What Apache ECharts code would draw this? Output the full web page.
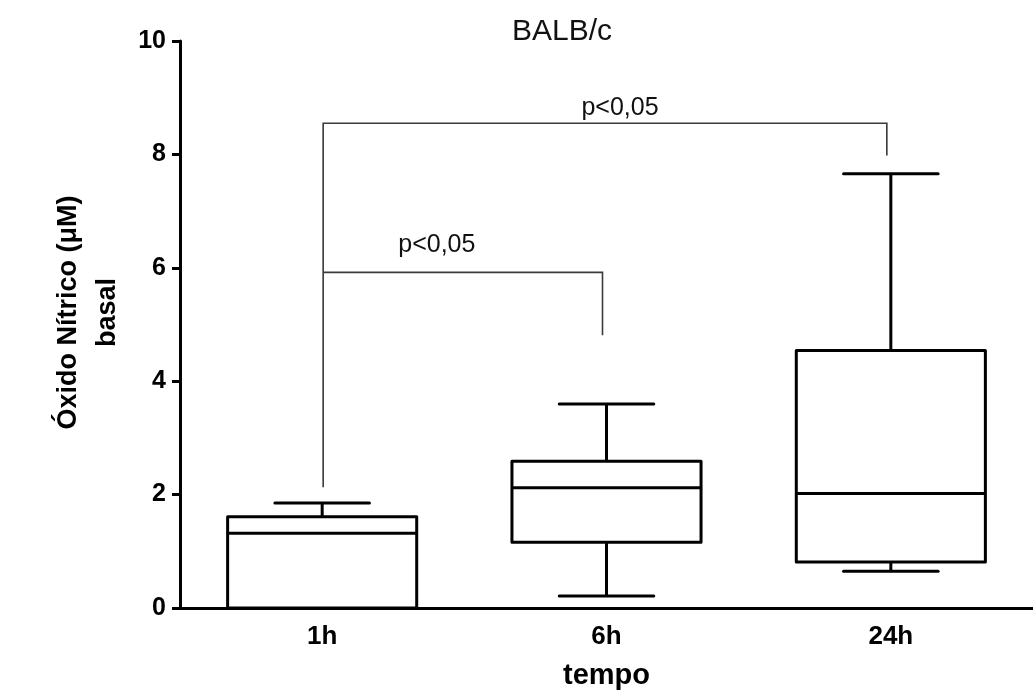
<!DOCTYPE html>
<html>
<head>
<meta charset="utf-8">
<script src="https://cdn.jsdelivr.net/npm/echarts@6/dist/echarts.min.js"></script>
<style>
html,body{margin:0;padding:0;background:#fff;}
#chart{width:1033px;height:695px;}
</style>
</head>
<body>
<div id="chart"></div>
<script>
// ---- data ----
const categories = ['1h', '6h', '24h'];
const minVals    = [0.00, 0.21, 0.65];
const q1Vals     = [0.00, 1.16, 0.81];
const medianVals = [1.32, 2.12, 2.02];
const q3Vals     = [1.61, 2.59, 4.54];
const maxVals    = [1.85, 3.60, 7.66];

const bracketFrom     = ['1h', '1h'];
const bracketTo       = ['24h', '6h'];
const bracketLevel    = [8.55, 5.92];
const bracketLeftEnd  = [2.13, 5.92];
const bracketRightEnd = [7.98, 4.81];
const bracketText     = ['p<0,05', 'p<0,05'];

const yMin = 0, yMax = 10, yInterval = 2;

// ---- layout constants (not data) ----
const labelOffsets = [[15, -15], [-26, -27]];
const FONT = '"Liberation Sans", Arial, sans-serif';

const boxData = categories.map((c, i) => [i, minVals[i], q1Vals[i], medianVals[i], q3Vals[i], maxVals[i]]);
const bracketData = bracketFrom.map((f, i) => [
  categories.indexOf(f), categories.indexOf(bracketTo[i]),
  bracketLevel[i], bracketLeftEnd[i], bracketRightEnd[i], i
]);

const chart = echarts.init(document.getElementById('chart'), null, {renderer: 'canvas'});

function renderBox(params, api) {
  const i = api.value(0);
  const band = api.size([1, 0])[0];
  const bw = band * 0.665;
  const half = bw / 2;
  const cap = bw / 4;
  const pMin = api.coord([i, api.value(1)]);
  const pQ1 = api.coord([i, api.value(2)]);
  const pMed = api.coord([i, api.value(3)]);
  const pQ3 = api.coord([i, api.value(4)]);
  const pMax = api.coord([i, api.value(5)]);
  const x = pMed[0];
  const st = {stroke: '#000', lineWidth: 3, fill: null, lineJoin: 'round', lineCap: 'butt'};
  return {
    type: 'group',
    children: [
      {type: 'line', shape: {x1: x, y1: pQ3[1], x2: x, y2: pMax[1]}, style: st},
      {type: 'line', shape: {x1: x - cap, y1: pMax[1], x2: x + cap, y2: pMax[1]}, style: Object.assign({}, st, {lineCap: 'round'})},
      {type: 'line', shape: {x1: x, y1: pQ1[1], x2: x, y2: pMin[1]}, style: st},
      {type: 'line', shape: {x1: x - cap, y1: pMin[1], x2: x + cap, y2: pMin[1]}, style: Object.assign({}, st, {lineCap: 'round'})},
      {type: 'rect', shape: {x: x - half, y: pQ3[1], width: bw, height: pQ1[1] - pQ3[1]}, style: Object.assign({}, st, {fill: '#fff'})},
      {type: 'line', shape: {x1: x - half, y1: pMed[1], x2: x + half, y2: pMed[1]}, style: st}
    ]
  };
}

function renderBracket(params, api) {
  const a = api.value(0), b = api.value(1);
  const lv = api.value(2), le = api.value(3), re = api.value(4);
  const idx = api.value(5);
  const pA = api.coord([a, lv]);
  const pB = api.coord([b, lv]);
  const pAe = api.coord([a, le]);
  const pBe = api.coord([b, re]);
  const xA = pA[0] + 1, xB = pB[0] - 4;
  const off = labelOffsets[idx];
  return {
    type: 'group',
    children: [
      {type: 'polyline', shape: {points: [[xA, pAe[1]], [xA, pA[1]], [xB, pB[1]], [xB, pBe[1]]]},
       style: {stroke: '#3a3a3a', lineWidth: 1.6, fill: null}},
      {type: 'text', x: (xA + xB) / 2 + off[0], y: pA[1] + off[1],
       style: {text: bracketText[idx], fill: '#111', font: '25px ' + FONT, align: 'center', verticalAlign: 'middle'}}
    ]
  };
}

const option = {
  animation: false,
  backgroundColor: '#fff',
  title: {
    text: 'BALB/c',
    left: 512, top: 17, padding: 0,
    textStyle: {fontFamily: FONT, fontSize: 30, fontWeight: 'normal', color: '#111'}
  },
  grid: {left: 180, right: -4, top: 41, bottom: 86, containLabel: false},
  xAxis: {
    type: 'category',
    data: categories,
    boundaryGap: true,
    name: 'tempo',
    nameLocation: 'middle',
    nameGap: 53,
    nameTextStyle: {fontFamily: FONT, fontSize: 29, fontWeight: 'bold', color: '#000'},
    axisLine: {lineStyle: {color: '#000', width: 3}},
    axisTick: {alignWithLabel: true, length: 10, lineStyle: {color: '#000', width: 3}},
    axisLabel: {fontFamily: FONT, fontSize: 26, fontWeight: 'bold', color: '#000', margin: 16},
    splitLine: {show: false}
  },
  yAxis: {
    type: 'value',
    min: yMin, max: yMax, interval: yInterval,
    name: 'Óxido Nítrico (μM)\nbasal',
    nameLocation: 'middle',
    nameGap: 46,
    nameRotate: 90,
    nameTextStyle: {fontFamily: FONT, fontSize: 27, fontWeight: 'bold', color: '#000', lineHeight: 39, padding: [0, 0, 0, 24]},
    axisLine: {show: true, lineStyle: {color: '#000', width: 3}},
    axisTick: {show: true, length: 8, lineStyle: {color: '#000', width: 3}},
    axisLabel: {fontFamily: FONT, fontSize: 25, fontWeight: 'bold', color: '#000', margin: 14},
    splitLine: {show: false}
  },
  series: [
    {
      type: 'custom',
      name: 'box',
      renderItem: renderBox,
      encode: {x: 0, y: [1, 2, 3, 4, 5]},
      data: boxData,
      z: 3
    },
    {
      type: 'custom',
      name: 'brackets',
      renderItem: renderBracket,
      encode: {x: [0, 1], y: [2, 3, 4]},
      data: bracketData,
      z: 4
    }
  ]
};
chart.setOption(option);
</script>
</body>
</html>
